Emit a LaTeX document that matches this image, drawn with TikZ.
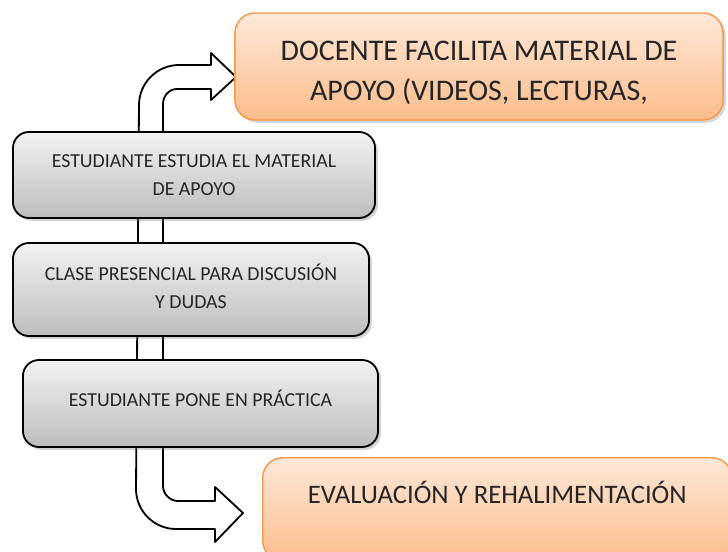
\documentclass[tikz,border=0pt]{standalone}
\usepackage{fontspec}
\setmainfont{Carlito}
\usepackage{tikz}
\usetikzlibrary{positioning,shadows}

\definecolor{naranjaborde}{HTML}{F79646}
\definecolor{naranjaclaro}{HTML}{FEE8D8}
\definecolor{naranjaoscuro}{HTML}{FBBD8C}
\definecolor{grisclaro}{HTML}{F2F2F2}
\definecolor{grisoscuro}{HTML}{BDBDBD}
\definecolor{texto}{HTML}{262626}

\tikzset{
  pasobox/.style={draw=black, line width=1.3pt, rounded corners=0.4cm,
    top color=grisclaro, bottom color=grisoscuro, text=texto, align=center,
    font={\fontsize{14.1}{19.9}\selectfont},
    drop shadow={opacity=0.35, shadow xshift=2pt, shadow yshift=-2pt}},
  docbox/.style={draw=naranjaborde, line width=1pt, rounded corners=0.5cm,
    top color=naranjaclaro, bottom color=naranjaoscuro, text=texto, align=center,
    drop shadow={opacity=0.3, shadow xshift=2pt, shadow yshift=-2pt}},
  flecha/.style={draw=black, line width=1.3pt, fill=white, line join=round}
}

\begin{document}
\begin{tikzpicture}[x=0.025cm, y=-0.025cm]
  \clip (0,0) rectangle (728,551); % picture frame
  \fill[white] (0,0) rectangle (728,551);
  % U-turn block arrow behind the boxes
  \draw[flecha] (236,77) -- (211,53) -- (211,65) -- (179,65) .. controls (157,65) and (139,83) .. (139,105)
    -- (136,489) .. controls (136,511) and (154,529) .. (176,529) -- (215,529) -- (215,542) -- (243,513)
    -- (215,487) -- (215,501) -- (178,501) .. controls (170,501) and (163,494) .. (163,486)
    -- (163,104) .. controls (163,96) and (169,89) .. (177,89) -- (211,89) -- (211,100) -- cycle;
  \node[docbox, minimum width=12.2cm, minimum height=2.675cm, font={\fontsize{21.3}{28.35}\selectfont}] (docente) at (479,66.5)
    {\rule{0pt}{0.82cm}DOCENTE FACILITA MATERIAL DE\\APOYO (VIDEOS, LECTURAS,}; % top box
  \node[pasobox, minimum width=9.05cm, minimum height=2.15cm] (estudia) at (194,175)
    {ESTUDIANTE ESTUDIA EL MATERIAL\\DE APOYO};
  \node[pasobox, minimum width=8.9cm, minimum height=2.325cm, text depth=0.15cm] (clase) at (191,289.5)
    {CLASE PRESENCIAL PARA DISCUSIÓN\\Y DUDAS};
  \node[pasobox, minimum width=8.875cm, minimum height=2.175cm, text depth=0.25cm] (practica) at (200.5,403.5)
    {ESTUDIANTE PONE EN PRÁCTICA};
  \node[docbox, anchor=north west, minimum width=11.725cm, minimum height=2.575cm, font={\fontsize{19}{28}\selectfont},
    text depth=0.85cm] (evaluacion) at (262,457)
    {EVALUACIÓN Y REHALIMENTACIÓN}; % bottom box, cut by the frame
\end{tikzpicture}
\end{document}
